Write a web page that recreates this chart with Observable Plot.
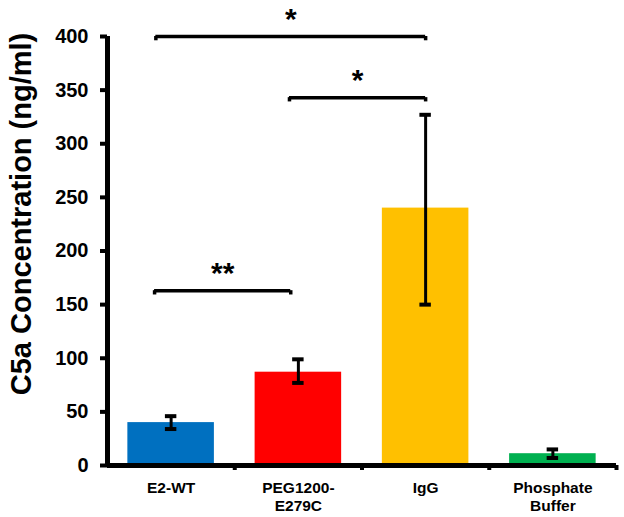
<!DOCTYPE html>
<html>
<head>
<meta charset="utf-8">
<script src="https://cdn.jsdelivr.net/npm/d3@7"></script>
<script src="https://cdn.jsdelivr.net/npm/@observablehq/plot@0.6"></script>
<style>
  body { margin: 0; background: #fff; }
  svg { font-family: "Liberation Sans", Arial, sans-serif; }
</style>
</head>
<body>
<div id="chart"></div>
<script>
const categories = ["E2-WT", "PEG1200-\nE279C", "IgG", "Phosphate\nBuffer"];
const values = [40, 87, 240, 11];
const errLow = [34, 77, 150, 7];
const errHigh = [46, 99, 327, 15];
const colors = ["#0070C0", "#FF0000", "#FFC000", "#00B050"];
const yTicks = [0, 50, 100, 150, 200, 250, 300, 350, 400];
// significance brackets: from/to in category units, height in ng/ml
const bracketFrom = [-0.12, 0.93, -0.13];
const bracketTo = [2.0, 2.0, 0.94];
const bracketY = [400, 343, 163];
const bracketLabel = ["*", "*", "**"];

const bars = categories.map((c, i) => ({i, c, value: values[i], lo: errLow[i], hi: errHigh[i], color: colors[i]}));
const brackets = bracketFrom.map((f, k) => ({x1: f, x2: bracketTo[k], y: bracketY[k], label: bracketLabel[k]}));

const half = 0.34, cap = 0.045, drop = 4;

const chart = Plot.plot({
  width: 624,
  height: 517,
  marginLeft: 107,
  marginRight: 8,
  marginTop: 36,
  marginBottom: 52,
  style: {fontFamily: "'Liberation Sans', Arial, sans-serif", color: "#000", background: "#fff"},
  x: {domain: [-0.5, 3.5]},
  y: {domain: [0, 400]},
  color: {type: "identity"},
  marks: [
    Plot.rectY(bars, {x1: d => d.i - half, x2: d => d.i + half, y1: 0, y2: "value", fill: "color"}),
    Plot.ruleX(bars, {x: "i", y1: "lo", y2: "hi", stroke: "#000", strokeWidth: 3}),
    Plot.ruleY(bars, {x1: d => d.i - cap, x2: d => d.i + cap, y: "lo", stroke: "#000", strokeWidth: 4}),
    Plot.ruleY(bars, {x1: d => d.i - cap, x2: d => d.i + cap, y: "hi", stroke: "#000", strokeWidth: 4}),
    Plot.ruleY(brackets, {x1: "x1", x2: "x2", y: "y", stroke: "#000", strokeWidth: 3.5}),
    Plot.ruleX(brackets, {x: "x1", y1: "y", y2: d => d.y - drop, stroke: "#000", strokeWidth: 3.5}),
    Plot.ruleX(brackets, {x: "x2", y1: "y", y2: d => d.y - drop, stroke: "#000", strokeWidth: 3.5}),
    Plot.text(brackets, {x: d => (d.x1 + d.x2) / 2, y: "y", text: "label", fontSize: 30, fontWeight: "bold", dy: -8, lineAnchor: "bottom", fill: "#000"}),
    Plot.axisY({ticks: yTicks, tickSize: 7, tickPadding: 12, strokeWidth: 4, fontSize: 20, fontWeight: "bold", label: null}),
    Plot.axisX({ticks: [0.5, 1.5, 2.5, 3.5], tickSize: 5, strokeWidth: 4, tickFormat: () => "", label: null}),
    Plot.axisX({ticks: [0, 1, 2, 3], tickSize: 0, tickPadding: 14, tickFormat: i => categories[i], fontSize: 15.5, fontWeight: "bold", lineHeight: 1.2, label: null}),
    Plot.ruleX([-0.5], {y1: 0, y2: 400, stroke: "#000", strokeWidth: 5}),
    Plot.ruleY([0], {stroke: "#000", strokeWidth: 5}),
    Plot.text(["C5a Concentration (ng/ml)"], {frameAnchor: "left", textAnchor: "middle", rotate: -90, dx: -86, dy: -37, fontSize: 29, fontWeight: "bold", fill: "#000"})
  ]
});
document.getElementById("chart").appendChild(chart);
</script>
</body>
</html>
